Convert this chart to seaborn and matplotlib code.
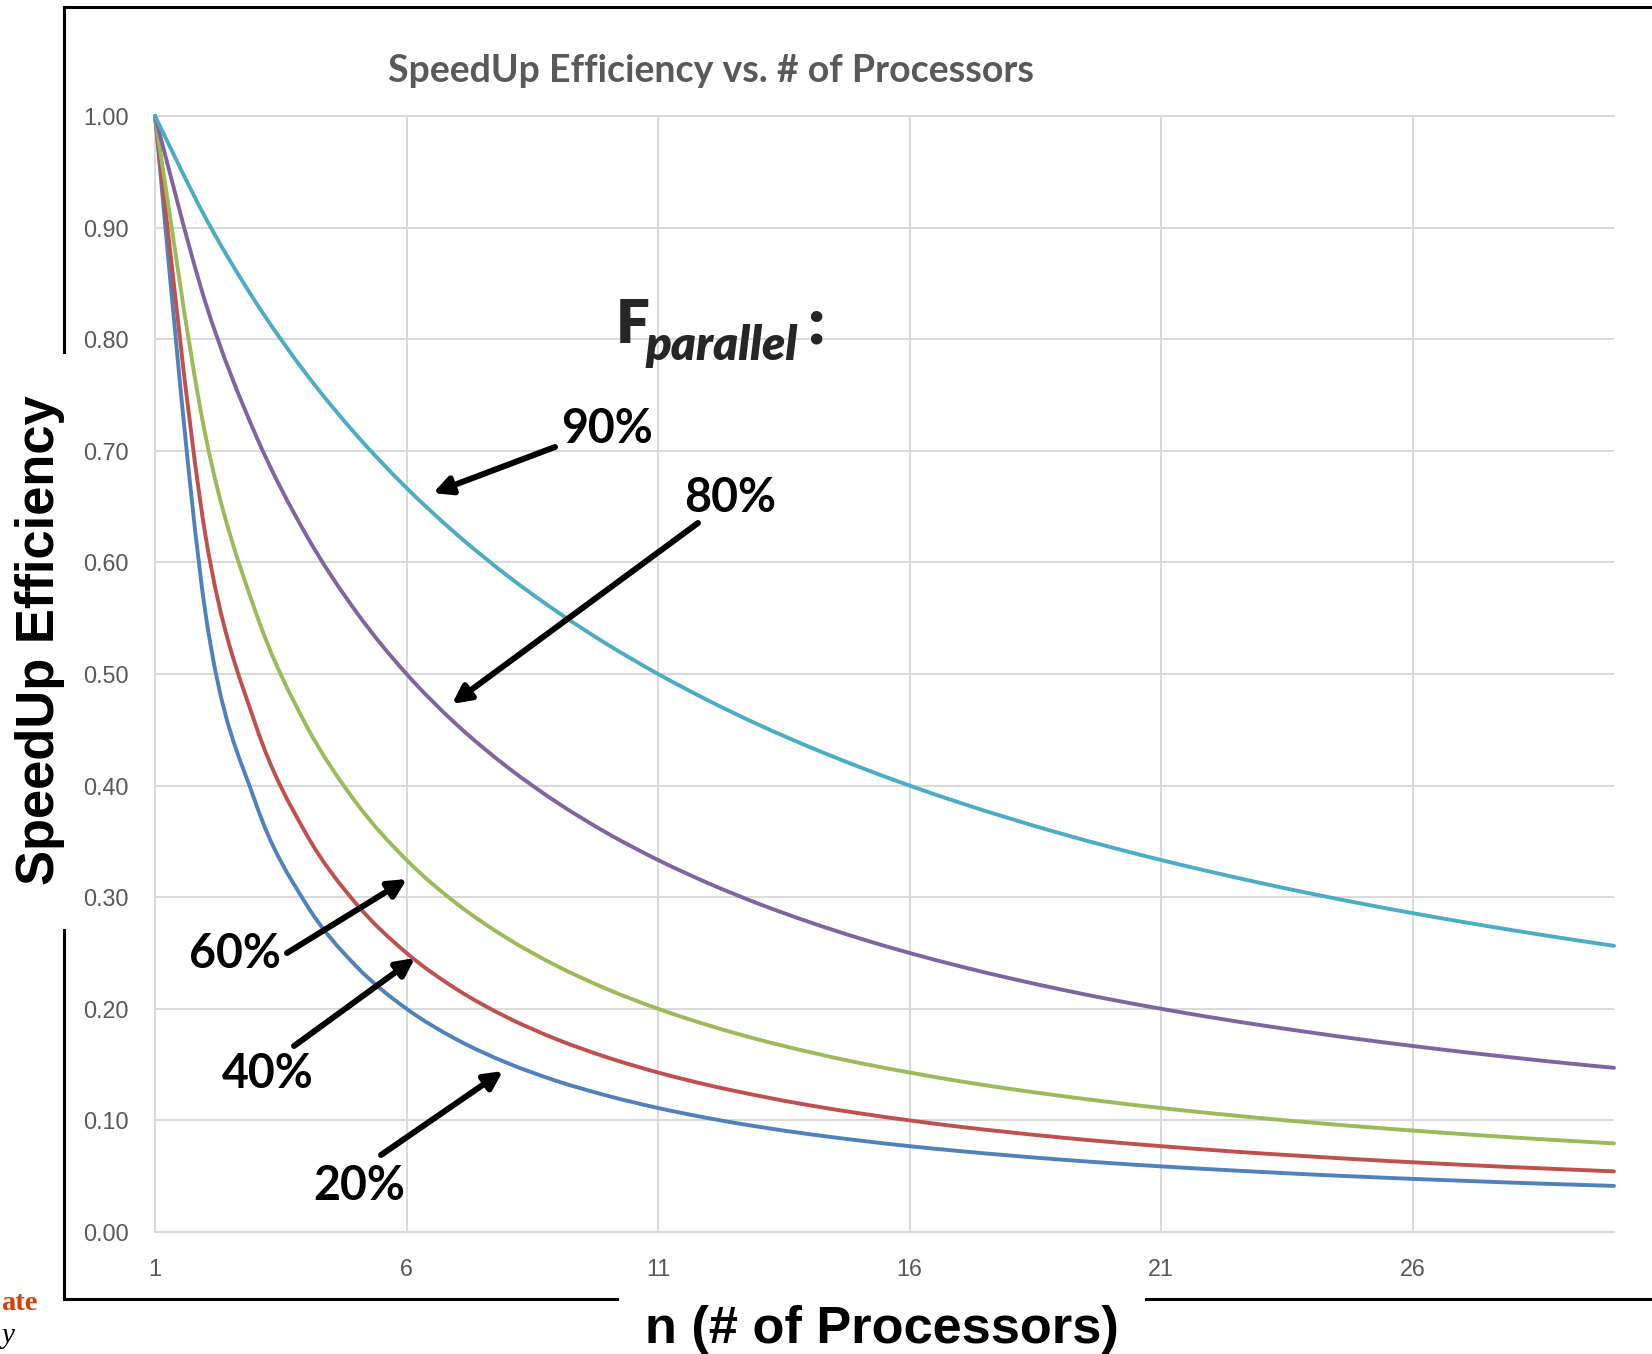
import matplotlib
matplotlib.use("Agg")
import matplotlib.pyplot as plt
from matplotlib.lines import Line2D
from matplotlib.path import Path
from matplotlib.patches import PathPatch
import seaborn as sns
import pandas as pd

# ---- data -------------------------------------------------------------
processors = [1, 2, 3, 4, 5, 6, 7, 8, 9, 10, 11, 12, 13, 14, 15,
              16, 17, 18, 19, 20, 21, 22, 23, 24, 25, 26, 27, 28, 29, 30]

eff_20 = [1.0000, 0.5556, 0.3846, 0.2941, 0.2381, 0.2000, 0.1724, 0.1515, 0.1351, 0.1220,
          0.1111, 0.1020, 0.0943, 0.0877, 0.0820, 0.0769, 0.0725, 0.0685, 0.0649, 0.0617,
          0.0588, 0.0562, 0.0538, 0.0515, 0.0495, 0.0476, 0.0459, 0.0442, 0.0427, 0.0413]
eff_40 = [1.0000, 0.6250, 0.4545, 0.3571, 0.2941, 0.2500, 0.2174, 0.1923, 0.1724, 0.1563,
          0.1429, 0.1316, 0.1220, 0.1136, 0.1064, 0.1000, 0.0943, 0.0893, 0.0847, 0.0806,
          0.0769, 0.0735, 0.0704, 0.0676, 0.0649, 0.0625, 0.0602, 0.0581, 0.0562, 0.0543]
eff_60 = [1.0000, 0.7143, 0.5556, 0.4545, 0.3846, 0.3333, 0.2941, 0.2632, 0.2381, 0.2174,
          0.2000, 0.1852, 0.1724, 0.1613, 0.1515, 0.1429, 0.1351, 0.1282, 0.1220, 0.1163,
          0.1111, 0.1064, 0.1020, 0.0980, 0.0943, 0.0909, 0.0877, 0.0847, 0.0820, 0.0794]
eff_80 = [1.0000, 0.8333, 0.7143, 0.6250, 0.5556, 0.5000, 0.4545, 0.4167, 0.3846, 0.3571,
          0.3333, 0.3125, 0.2941, 0.2778, 0.2632, 0.2500, 0.2381, 0.2273, 0.2174, 0.2083,
          0.2000, 0.1923, 0.1852, 0.1786, 0.1724, 0.1667, 0.1613, 0.1563, 0.1515, 0.1471]
eff_90 = [1.0000, 0.9091, 0.8333, 0.7692, 0.7143, 0.6667, 0.6250, 0.5882, 0.5556, 0.5263,
          0.5000, 0.4762, 0.4545, 0.4348, 0.4167, 0.4000, 0.3846, 0.3704, 0.3571, 0.3448,
          0.3333, 0.3226, 0.3125, 0.3030, 0.2941, 0.2857, 0.2778, 0.2703, 0.2632, 0.2564]

fractions = ["20%", "40%", "60%", "80%", "90%"]
series = [eff_20, eff_40, eff_60, eff_80, eff_90]
colors = ["#4F81BD", "#C0504D", "#9BBB59", "#8064A2", "#4BACC6"]

x_ticks = [1, 6, 11, 16, 21, 26]
y_ticks = [0.0, 0.1, 0.2, 0.3, 0.4, 0.5, 0.6, 0.7, 0.8, 0.9, 1.0]
y_tick_labels = ["0.00", "0.10", "0.20", "0.30", "0.40", "0.50",
                 "0.60", "0.70", "0.80", "0.90", "1.00"]

title = "SpeedUp Efficiency vs. # of Processors"
x_label = "n (# of Processors)"
y_label = "SpeedUp Efficiency"

# ---- figure -----------------------------------------------------------
W, H = 1652, 1354
sns.set_style("white")
plt.rcParams["font.family"] = ["Liberation Sans", "DejaVu Sans"]
CAL = ["Lato", "Liberation Sans", "DejaVu Sans"]
SERIF = ["Liberation Serif", "DejaVu Serif"]


def fig_xy(x, y):
    """Pixel position (from top-left) to figure fraction."""
    return x / W, 1 - y / H


def smooth_path(xs, ys):
    """Cubic Bezier path through every point (spreadsheet-style smoothed line)."""
    pts = list(zip(xs, ys))
    verts = [pts[0]]
    codes = [Path.MOVETO]
    for i in range(len(pts) - 1):
        p0 = pts[i - 1] if i > 0 else pts[i]
        p1 = pts[i]
        p2 = pts[i + 1]
        p3 = pts[i + 2] if i + 2 < len(pts) else pts[i + 1]
        c1 = (p1[0] + (p2[0] - p0[0]) / 6, p1[1] + (p2[1] - p0[1]) / 6)
        c2 = (p2[0] - (p3[0] - p1[0]) / 6, p2[1] - (p3[1] - p1[1]) / 6)
        verts += [c1, c2, p2]
        codes += [Path.CURVE4] * 3
    return Path(verts, codes)


fig = plt.figure(figsize=(W / 100, H / 100), dpi=100)
fig.patch.set_facecolor("white")
ax = fig.add_axes([155 / W, 1 - 1232 / H, (1614 - 155) / W, (1232 - 116) / H])

df = pd.concat(
    [pd.DataFrame({"n": processors, "efficiency": vals, "F": f})
     for f, vals in zip(fractions, series)],
    ignore_index=True,
)
sns.lineplot(data=df, x="n", y="efficiency", hue="F", hue_order=fractions,
             palette=dict(zip(fractions, colors)), linewidth=2.8,
             legend=False, ax=ax, clip_on=False, zorder=3)

# render each series as a smoothed line through its plotted points
for line in list(ax.lines):
    path = smooth_path(line.get_xdata(), line.get_ydata())
    ax.add_patch(PathPatch(path, fill=False, edgecolor=line.get_color(),
                           linewidth=line.get_linewidth(), zorder=3,
                           clip_on=False, capstyle="round", joinstyle="round"))
    line.set_visible(False)

ax.set_xlim(1, 30)
ax.set_ylim(0, 1)
ax.set_xticks(x_ticks)
ax.set_xticklabels([str(t) for t in x_ticks])
ax.set_yticks(y_ticks)
ax.set_yticklabels(y_tick_labels)
ax.set_xlabel("")
ax.set_ylabel("")
ax.grid(True, color="#D9D9D9", linewidth=1.4)
ax.set_axisbelow(True)
for side in ("left", "top", "bottom"):
    ax.spines[side].set_color("#D9D9D9")
    ax.spines[side].set_linewidth(1.5)
ax.spines["right"].set_visible(False)
ax.tick_params(axis="both", length=0, labelsize=16.8, labelcolor="#595959")
ax.tick_params(axis="y", pad=19)
ax.tick_params(axis="x", pad=19)

# ---- titles / axis labels --------------------------------------------
fig.text(*fig_xy(711, 82), title, ha="center", va="baseline", fontsize=27,
         fontweight="bold", color="#595959", family=CAL)
fig.text(*fig_xy(40, 640), y_label, rotation=90, ha="center", va="center",
         fontsize=37.8, fontweight="bold", color="black")
fig.text(*fig_xy(882, 1343), x_label, ha="center", va="baseline",
         fontsize=37.7, fontweight="bold", color="black")

# ---- F_parallel legend heading -----------------------------------------
fig.text(*fig_xy(616, 343), "F", ha="left", va="baseline", fontsize=43,
         fontweight="heavy", family=CAL)
fig.text(*fig_xy(645, 360), "parallel", ha="left", va="baseline", fontsize=34,
         fontweight="heavy", style="italic", family=CAL)
fig.text(*fig_xy(807, 343), ":", ha="left", va="baseline", fontsize=47,
         fontweight="heavy", family=CAL)

# ---- curve callouts -----------------------------------------------------
callouts = [
    ("90%", (607, 443), (555, 447), (433, 493)),
    ("80%", (730, 512), (698, 523), (452, 704)),
    ("60%", (235, 968), (287, 953), (407, 879)),
    ("40%", (268, 1088), (294, 1046), (415, 958)),
    ("20%", (359, 1200), (381, 1155), (503, 1071)),
]
for label, text_pos, tail, head in callouts:
    fig.text(*fig_xy(*text_pos), label, ha="center", va="baseline",
             fontsize=33.5, fontweight="bold", family=CAL, color="black")
    ax.annotate("", xy=(head[0], H - head[1]), xytext=(tail[0], H - tail[1]),
                xycoords="figure pixels", textcoords="figure pixels",
                arrowprops=dict(arrowstyle="-|>,head_length=0.6,head_width=0.3",
                                color="black", lw=4.3, mutation_scale=18,
                                shrinkA=0, shrinkB=0))

# ---- slide frame ----------------------------------------------------------
frame = [
    ((64, 7), (1652, 7)),
    ((64, 7), (64, 352)),
    ((64, 930), (64, 1299)),
    ((64, 1299), (617, 1299)),
    ((1146, 1299), (1652, 1299)),
]
for (x0, y0), (x1, y1) in frame:
    fx0, fy0 = fig_xy(x0, y0)
    fx1, fy1 = fig_xy(x1, y1)
    fig.add_artist(Line2D([fx0, fx1], [fy0, fy1], transform=fig.transFigure,
                          color="black", linewidth=2.2,
                          solid_capstyle="projecting"))

# wordmark fragments at the slide edge
fig.text(*fig_xy(1, 1310), "ate", ha="left", va="baseline",
         fontsize=20.5, fontweight="bold", color="#D73F09", family=SERIF)
fig.text(*fig_xy(1, 1343), "y", ha="left", va="baseline",
         fontsize=21, style="italic", color="black", family=SERIF)

fig.savefig("out.png", dpi=100, facecolor="white")
